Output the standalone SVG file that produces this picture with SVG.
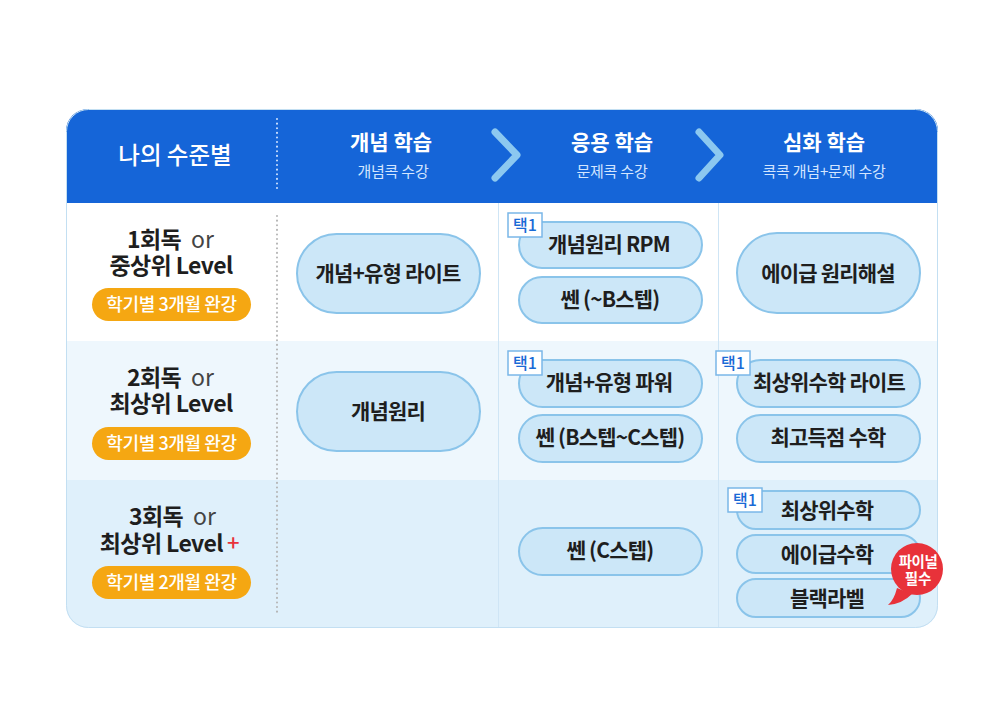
<svg xmlns="http://www.w3.org/2000/svg" width="994" height="704" viewBox="0 0 994 704">
<style>
  text { font-family: "Noto Sans CJK KR", "Noto Sans", sans-serif; }
  .hd { fill: #ffffff; font-weight: 700; font-size: 21px; text-anchor: middle; }
  .hs { fill: #d3e6ff; font-size: 15px; text-anchor: middle; letter-spacing: -0.2px; }
  .pill { fill: #cce7f8; stroke: #8ac4ea; stroke-width: 2; }
  .pt { fill: #1e1e1e; font-weight: 700; font-size: 21px; text-anchor: middle; letter-spacing: -0.8px; }
  .lv { fill: #1e1e1e; font-weight: 700; font-size: 23px; letter-spacing: -0.6px; }
  .or { fill: #444444; font-weight: 400; font-size: 23px; }
  .op { fill: #f5a712; }
  .ot { fill: #ffffff; font-size: 18px; font-weight: 500; text-anchor: middle; letter-spacing: -0.4px; }
  .bd { fill: #ffffff; stroke: #7ab7e8; stroke-width: 1.5; }
  .bt { fill: #1a6ad6; font-size: 16px; font-weight: 500; text-anchor: middle; }
  .chev { fill: none; stroke: #8cc8f0; stroke-width: 7; stroke-linecap: round; stroke-linejoin: round; }
</style>
<defs>
  <clipPath id="card"><rect x="66" y="109" width="872" height="519" rx="22"/></clipPath>
</defs>
<rect width="994" height="704" fill="#ffffff"/>
<g id="table" clip-path="url(#card)">
  <rect x="66" y="109" width="872" height="94" fill="#1565d8"/>
  <rect x="66" y="203" width="872" height="138" fill="#ffffff"/>
  <rect x="66" y="341" width="872" height="139" fill="#eef7fd"/>
  <rect x="66" y="480" width="872" height="148" fill="#dff0fb"/>
  <line x1="498.5" y1="203" x2="498.5" y2="628" stroke="#cfe5f5" stroke-width="1"/>
  <line x1="718.5" y1="203" x2="718.5" y2="628" stroke="#cfe5f5" stroke-width="1"/>
  <line x1="277" y1="119" x2="277" y2="190" stroke="#cfe2ff" stroke-width="2" stroke-dasharray="0.1 4.5" stroke-linecap="round"/>
  <line x1="277" y1="216" x2="277" y2="616" stroke="#b4b4b4" stroke-width="2" stroke-dasharray="0.1 4.5" stroke-linecap="round"/>
</g>
<rect x="66.5" y="109.5" width="871" height="518" rx="22" fill="none" stroke="#c3dff2" stroke-width="1"/>
<g id="header">
  <text x="175" y="164" fill="#ffffff" font-size="23.5" font-weight="500" text-anchor="middle">나의 수준별</text>
  <text class="hd" x="391" y="150">개념 학습</text>
  <text class="hs" x="393" y="177">개념콕 수강</text>
  <text class="hd" x="612" y="150">응용 학습</text>
  <text class="hs" x="612" y="177">문제콕 수강</text>
  <text class="hd" x="824" y="150">심화 학습</text>
  <text class="hs" x="824" y="177">콕콕 개념+문제 수강</text>
</g>
<g id="connectors">
  <path class="chev" d="M495 132 L517 155 L495 178"/>
  <path class="chev" d="M699 132 L720 155 L699 178"/>
</g>
<g id="level1">
  <text class="lv" x="181" y="248" text-anchor="end">1회독</text>
  <text class="or" x="191" y="248">or</text>
  <text class="lv" x="171" y="274" text-anchor="middle">중상위 Level</text>
  <rect class="op" x="92" y="288" width="159" height="33" rx="16.5"/>
  <text class="ot" x="171.5" y="311">학기별 3개월 완강</text>
</g>
<g id="level2">
  <text class="lv" x="181" y="386" text-anchor="end">2회독</text>
  <text class="or" x="191" y="386">or</text>
  <text class="lv" x="171" y="412" text-anchor="middle">최상위 Level</text>
  <rect class="op" x="92" y="427" width="159" height="33" rx="16.5"/>
  <text class="ot" x="171.5" y="450">학기별 3개월 완강</text>
</g>
<g id="level3">
  <text class="lv" x="183" y="525" text-anchor="end">3회독</text>
  <text class="or" x="193" y="525">or</text>
  <text class="lv" x="223" y="552" text-anchor="end">최상위 Level</text>
  <text x="227" y="551" fill="#e8313a" font-size="22" font-weight="500">+</text>
  <rect class="op" x="92" y="566" width="159" height="33" rx="16.5"/>
  <text class="ot" x="171.5" y="589">학기별 2개월 완강</text>
</g>
<g id="c1r1">
  <rect class="pill" x="297" y="234" width="183" height="79" rx="39.5"/>
  <text class="pt" x="388" y="281">개념+유형 라이트</text>
</g>
<g id="c1r2">
  <rect class="pill" x="297" y="372" width="183" height="79" rx="39.5"/>
  <text class="pt" x="388" y="419">개념원리</text>
</g>
<g id="c2r1">
  <rect class="pill" x="519" y="222" width="183" height="46" rx="23"/>
  <text class="pt" x="609" y="252">개념원리 RPM</text>
  <rect class="pill" x="519" y="277" width="183" height="46" rx="23"/>
  <text class="pt" x="610" y="307">쎈 (~B스텝)</text>
  <rect class="bd" x="508" y="213" width="34" height="24"/>
  <text class="bt" x="525" y="231">택1</text>
</g>
<g id="c2r2">
  <rect class="pill" x="519" y="360" width="183" height="47" rx="23.5"/>
  <text class="pt" x="609" y="390">개념+유형 파워</text>
  <rect class="pill" x="519" y="415" width="183" height="47" rx="23.5"/>
  <text class="pt" x="610" y="445">쎈 (B스텝~C스텝)</text>
  <rect class="bd" x="508" y="351" width="34" height="24"/>
  <text class="bt" x="525" y="369">택1</text>
</g>
<g id="c2r3">
  <rect class="pill" x="519" y="528" width="183" height="47" rx="23.5"/>
  <text class="pt" x="610" y="558">쎈 (C스텝)</text>
</g>
<g id="c3r1">
  <rect class="pill" x="737" y="233" width="183" height="80" rx="40"/>
  <text class="pt" x="828" y="281">에이급 원리해설</text>
</g>
<g id="c3r2">
  <rect class="pill" x="737" y="360" width="183" height="47" rx="23.5"/>
  <text class="pt" x="829" y="390">최상위수학 라이트</text>
  <rect class="pill" x="737" y="415" width="183" height="47" rx="23.5"/>
  <text class="pt" x="828" y="445">최고득점 수학</text>
  <rect class="bd" x="716" y="351" width="34" height="24"/>
  <text class="bt" x="733" y="369">택1</text>
</g>
<g id="c3r3">
  <rect class="pill" x="737" y="491" width="183" height="38" rx="19"/>
  <text class="pt" x="827" y="518">최상위수학</text>
  <rect class="pill" x="737" y="535" width="183" height="38" rx="19"/>
  <text class="pt" x="827" y="562">에이급수학</text>
  <rect class="pill" x="737" y="579" width="183" height="38" rx="19"/>
  <text class="pt" x="827" y="606">블랙라벨</text>
  <rect class="bd" x="728" y="488" width="34" height="24"/>
  <text class="bt" x="745" y="506">택1</text>
</g>
<g id="final-badge">
  <path d="M897 588 Q894 600 888 605 Q902 604 912 594 Z" fill="#e8323a"/>
  <circle cx="917" cy="569" r="26" fill="#e8323a"/>
  <text x="918" y="567" fill="#ffffff" font-size="14.5" font-weight="700" text-anchor="middle" letter-spacing="-0.5">파이널</text>
  <text x="918" y="584" fill="#ffffff" font-size="14.5" font-weight="700" text-anchor="middle">필수</text>
</g>
</svg>
